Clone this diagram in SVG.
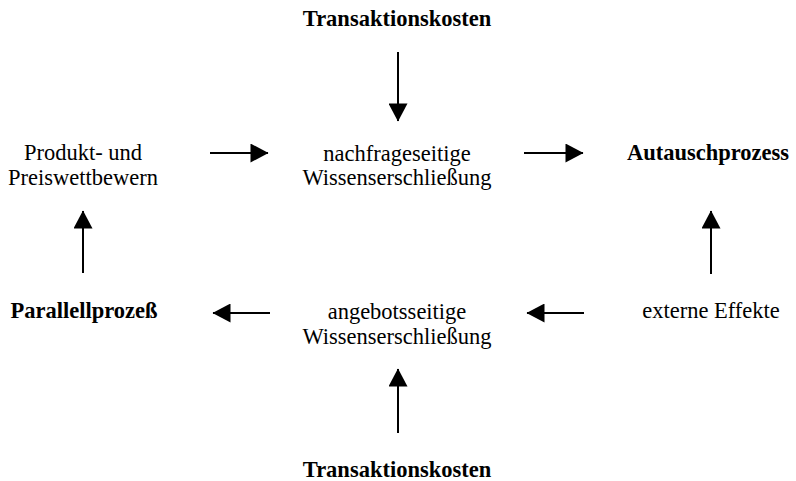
<svg xmlns="http://www.w3.org/2000/svg" width="796" height="481" viewBox="0 0 796 481">
<style>
text{font-family:"Liberation Serif","Times New Roman",serif;font-size:22.5px;fill:#000;text-anchor:middle}
.b{font-weight:bold}
.c{stroke:#000;stroke-width:2;fill:none}
</style>
<defs>
<marker id="ah" markerUnits="userSpaceOnUse" markerWidth="19" markerHeight="19" viewBox="0 0 18 19" refX="17.5" refY="9.5" orient="auto">
<path d="M0,0 L18,9.5 L0,19 Z" fill="#000"/>
</marker>
</defs>
<rect width="796" height="481" fill="#fff"/>
<g id="tk-top"><text class="b" x="397" y="26">Transaktionskosten</text></g>
<g id="nachfrage"><text x="397" y="161">nachfrageseitige</text><text x="397" y="185">Wissenserschließung</text></g>
<g id="produkt"><text x="83" y="160">Produkt- und</text><text x="83" y="185">Preiswettbewern</text></g>
<g id="austausch"><text class="b" x="708" y="160">Autauschprozess</text></g>
<g id="parallel"><text class="b" x="84" y="318">Parallellprozeß</text></g>
<g id="angebot"><text x="397" y="319">angebotsseitige</text><text x="397" y="344">Wissenserschließung</text></g>
<g id="extern"><text x="711" y="318">externe Effekte</text></g>
<g id="tk-bottom"><text class="b" x="397" y="477">Transaktionskosten</text></g>
<g id="connectors">
<line class="c" x1="398" y1="52" x2="398" y2="121" marker-end="url(#ah)"/>
<line class="c" x1="210" y1="153" x2="268" y2="153" marker-end="url(#ah)"/>
<line class="c" x1="524" y1="153" x2="583" y2="153" marker-end="url(#ah)"/>
<line class="c" x1="83" y1="273" x2="83" y2="211" marker-end="url(#ah)"/>
<line class="c" x1="711" y1="274" x2="711" y2="211" marker-end="url(#ah)"/>
<line class="c" x1="270" y1="313" x2="213" y2="313" marker-end="url(#ah)"/>
<line class="c" x1="584" y1="313" x2="527" y2="313" marker-end="url(#ah)"/>
<line class="c" x1="398" y1="433" x2="398" y2="369" marker-end="url(#ah)"/>
</g>
</svg>
